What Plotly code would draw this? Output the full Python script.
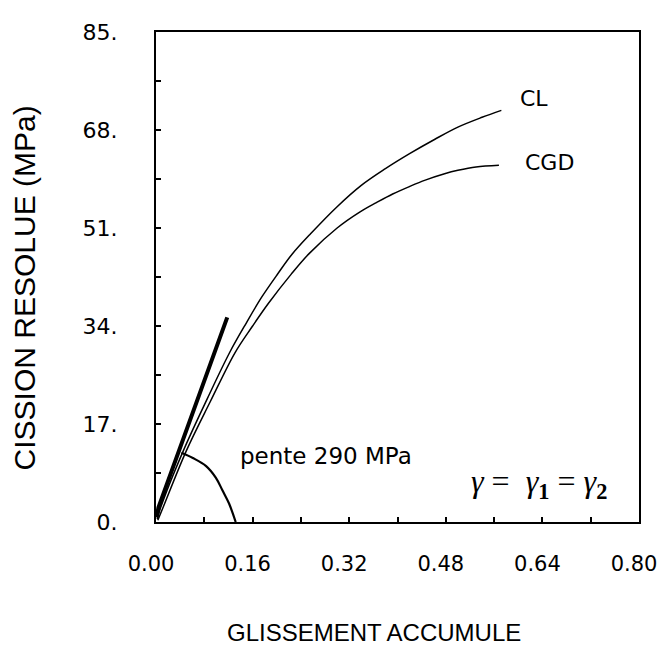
import plotly.graph_objects as go

# Curve data
cl_x = [0.002, 0.008, 0.045, 0.085, 0.122, 0.150, 0.175, 0.202, 0.225, 0.256, 0.300,
        0.340, 0.380, 0.420, 0.462, 0.500, 0.540, 0.572]
cl_y = [0.5, 2.6, 12.3, 21.4, 29.4, 34.6, 39.0, 43.1, 46.4, 50.0, 54.7,
        58.4, 61.3, 63.9, 66.4, 68.5, 70.2, 71.4]

cgd_x = [0.003, 0.012, 0.050, 0.090, 0.131, 0.160, 0.186, 0.224, 0.254, 0.300, 0.338,
         0.365, 0.392, 0.420, 0.446, 0.478, 0.500, 0.530, 0.568]
cgd_y = [0.3, 2.6, 12.3, 20.9, 29.4, 34.0, 37.9, 43.0, 46.6, 51.0, 53.8,
         55.4, 56.9, 58.2, 59.3, 60.4, 61.0, 61.6, 61.9]

slope_x = [0.001, 0.004, 0.118]
slope_y = [0.8, 2.5, 35.5]

arc_x = [0.042, 0.061, 0.083, 0.099, 0.110, 0.121, 0.132]
arc_y = [12.0, 11.1, 9.7, 7.7, 5.5, 3.2, 0.0]

x_ticks = [0.0, 0.16, 0.32, 0.48, 0.64, 0.80]
x_tick_labels = ["0.00", "0.16", "0.32", "0.48", "0.64", "0.80"]
y_ticks = [0, 17, 34, 51, 68, 85]
y_tick_labels = ["0.", "17.", "34.", "51.", "68.", "85."]

FONT = "DejaVu Sans"

fig = go.Figure()
fig.add_trace(go.Scatter(x=cl_x, y=cl_y, mode="lines", line=dict(color="black", width=1.5, shape="spline"),
                         name="CL", showlegend=False))
fig.add_trace(go.Scatter(x=cgd_x, y=cgd_y, mode="lines", line=dict(color="black", width=1.5, shape="spline"),
                         name="CGD", showlegend=False))
fig.add_trace(go.Scatter(x=slope_x, y=slope_y, mode="lines", line=dict(color="black", width=4),
                         name="pente", showlegend=False))
fig.add_trace(go.Scatter(x=arc_x, y=arc_y, mode="lines", line=dict(color="black", width=2.2, shape="spline"),
                         name="arc", showlegend=False))

annotations = [
    dict(x=0.600, y=73.4, xref="x", yref="y", text="CL", showarrow=False, xanchor="left", yanchor="middle",
         font=dict(family=FONT, size=22, color="black")),
    dict(x=0.608, y=62.3, xref="x", yref="y", text="CGD", showarrow=False, xanchor="left", yanchor="middle",
         font=dict(family=FONT, size=22, color="black")),
    dict(x=0.135, y=11.4, xref="x", yref="y", text="pente 290 MPa", showarrow=False, xanchor="left",
         yanchor="middle", font=dict(family=FONT, size=23, color="black")),
    dict(x=0.519, y=6.6, xref="x", yref="y",
         text="<i>γ</i> =  <i>γ</i><sub><b>1</b></sub> = <i>γ</i><sub><b>2</b></sub>",
         showarrow=False, xanchor="left", yanchor="middle",
         font=dict(family="Liberation Serif", size=32, color="black")),
    dict(x=0.451, y=-0.225, xref="paper", yref="paper", text="GLISSEMENT ACCUMULE", showarrow=False,
         xanchor="center", yanchor="middle", font=dict(family="Liberation Sans", size=24, color="black")),
    dict(x=-0.272, y=0.478, xref="paper", yref="paper", text="CISSION RESOLUE (MPa)", showarrow=False,
         xanchor="center", yanchor="middle", textangle=-90,
         font=dict(family="Liberation Sans", size=30, color="black")),
]

# the page body adds an 8px offset, so the figure is 8px smaller and margins compensate
fig.update_layout(
    width=661, height=645,
    margin=dict(l=148, r=13, t=16, b=131),
    paper_bgcolor="white", plot_bgcolor="white",
    showlegend=False,
    annotations=annotations,
    xaxis=dict(range=[0, 0.8], tickvals=x_ticks, ticktext=x_tick_labels, showgrid=False, zeroline=False,
               showline=True, linecolor="black", linewidth=2, mirror=True,
               ticks="inside", ticklen=5, tickwidth=1.5, tickcolor="black",
               minor=dict(ticks="inside", dtick=0.08, tick0=0, ticklen=5, tickwidth=1.5, tickcolor="black"),
               tickfont=dict(family=FONT, size=21, color="black"), ticklabelstandoff=22,
               ticklabelshift=-5, ticklabeloverflow="allow"),
    yaxis=dict(range=[0, 85], tickvals=y_ticks, ticktext=y_tick_labels, showgrid=False, zeroline=False,
               showline=True, linecolor="black", linewidth=2, mirror=True,
               ticks="inside", ticklen=5, tickwidth=1.5, tickcolor="black",
               minor=dict(ticks="inside", dtick=8.5, tick0=0, ticklen=5, tickwidth=1.5, tickcolor="black"),
               tickfont=dict(family=FONT, size=22, color="black"), ticklabelstandoff=32),
)

fig.write_html("out.html")
